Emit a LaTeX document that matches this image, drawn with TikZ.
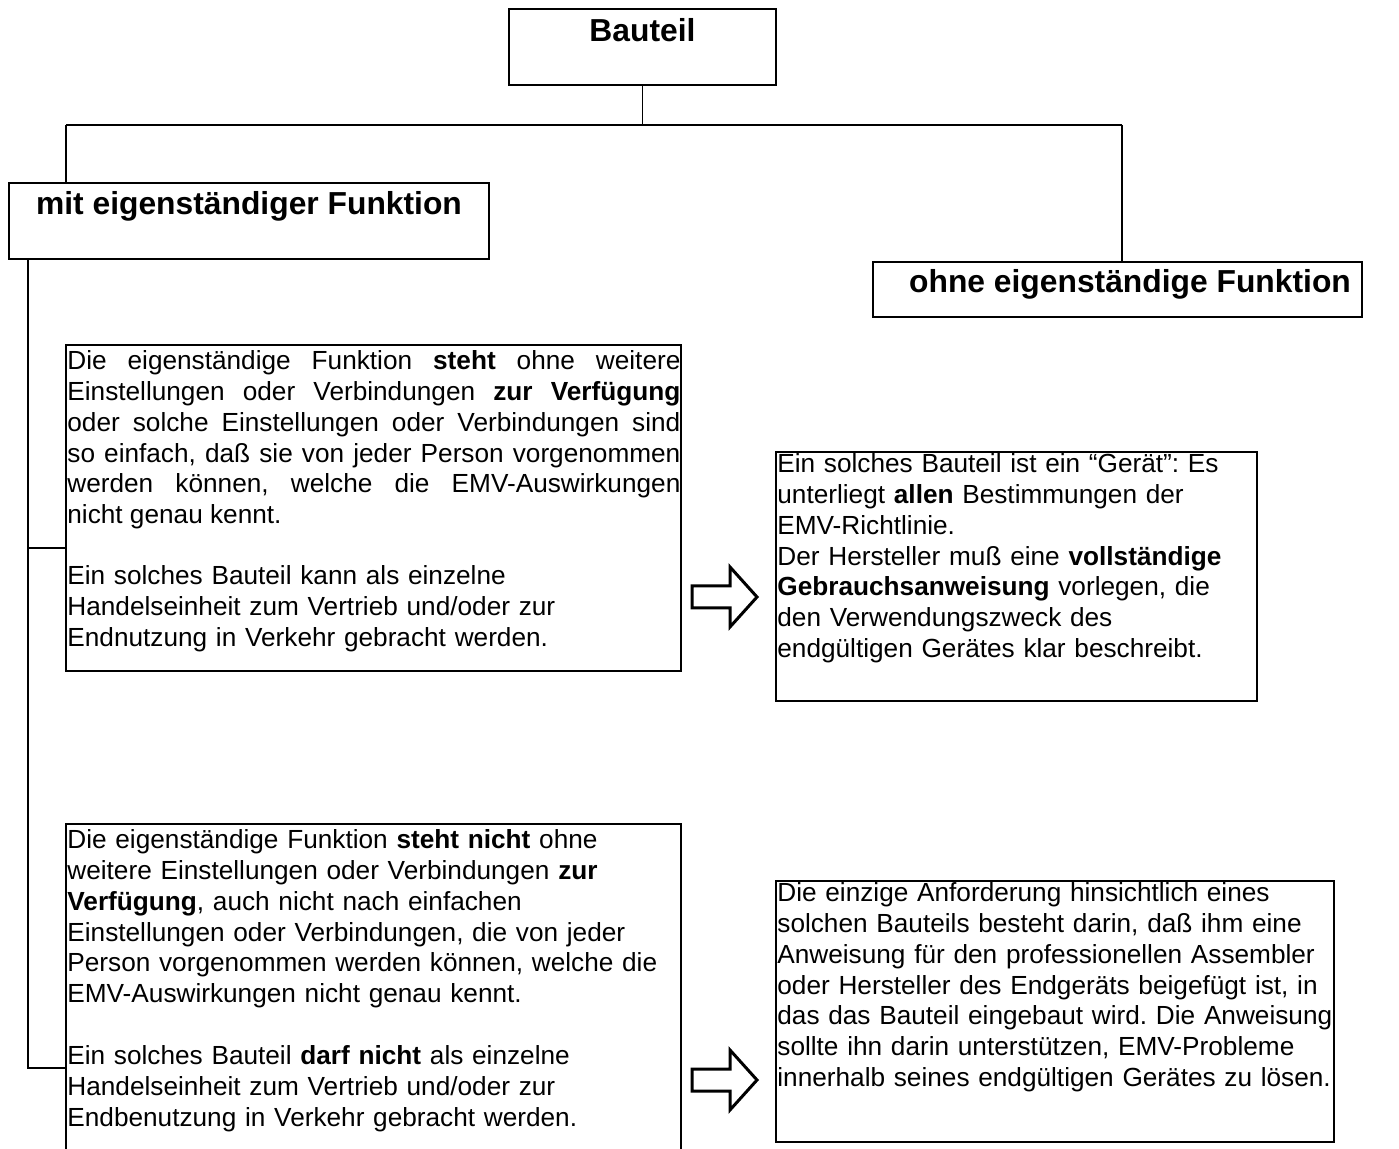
\documentclass[tikz,border=0pt]{standalone}
\usepackage{fontspec}
\setmainfont{Liberation Sans}
\usetikzlibrary{fit}
\frenchspacing
\begin{document}
\begin{tikzpicture}[x=0.5pt,y=-0.5pt,
  box/.style={draw, line width=0.8pt, inner sep=0pt},
  headtext/.style={font=\fontsize{15.9}{19}\selectfont\bfseries, inner sep=0pt, anchor=base},
  textbody/.style={font=\fontsize{13.1}{15.35}\selectfont\frenchspacing, inner sep=0pt, anchor=base west, text width=#1},
  textbody/.default=320pt,
  link/.style={line width=0.8pt},
  fatarrow/.style={draw, line width=1.5pt, line join=miter}]
\useasboundingbox (0,0) rectangle (1399,1149);

% boxes
\node[box, fit={(509,9) (776,85)}] (bauteil) {};
\node[headtext] (tbauteil) at (642.5,41.5) {Bauteil};
\node[box, fit={(9,183) (489,259)}] (mit) {};
\node[headtext] (tmit) at (249,215) {mit eigenständiger Funktion};
\node[box, fit={(873,262) (1362,317)}] (ohne) {};
\node[headtext] (tohne) at (1130,293) {ohne eigenständige Funktion};

\node[box, fit={(66,345) (681,671)}] (b1) {};
\node[box, fit={(776,452) (1257,701)}] (b2) {};
\node[box, fit={(66,824) (681,1170)}] (b3) {};
\node[box, fit={(776,881) (1334,1142)}] (b4) {};

% texts
\node[textbody=306.5pt, align=justify] (t1a) at (67,370) {Die eigenständige Funktion \textbf{steht} ohne weitere\linebreak Einstellungen oder Verbindungen \textbf{zur Verfügung}\linebreak oder solche Einstellungen oder Verbindungen sind\linebreak so einfach, daß sie von jeder Person vorgenommen\linebreak werden können, welche die EMV-Auswirkungen\linebreak nicht genau kennt.};
\node[textbody, align=left] (t1b) at (67,585) {Ein solches Bauteil kann als einzelne\\ Handelseinheit zum Vertrieb und/oder zur\\ Endnutzung in Verkehr gebracht werden.};

\node[textbody, align=left] (t2) at (777,473) {Ein solches Bauteil ist ein “Gerät": Es\\ unterliegt \textbf{allen} Bestimmungen der\\ EMV-Richtlinie.\\ Der Hersteller muß eine \textbf{vollständige}\\ \textbf{Gebrauchsanweisung} vorlegen, die\\ den Verwendungszweck des\\ endgültigen Gerätes klar beschreibt.};

\node[textbody, align=left] (t3a) at (67,849) {Die eigenständige Funktion \textbf{steht nicht} ohne\\ weitere Einstellungen oder Verbindungen \textbf{zur}\\ \textbf{Verfügung}, auch nicht nach einfachen\\ Einstellungen oder Verbindungen, die von jeder\\ Person vorgenommen werden können, welche die\\ EMV-Auswirkungen nicht genau kennt.};
\node[textbody, align=left] (t3b) at (67,1065) {Ein solches Bauteil \textbf{darf nicht} als einzelne\\ Handelseinheit zum Vertrieb und/oder zur\\ Endbenutzung in Verkehr gebracht werden.};

\node[textbody, align=left] (t4) at (777,902) {Die einzige Anforderung hinsichtlich eines\\ solchen Bauteils besteht darin, daß ihm eine\\ Anweisung für den professionellen Assembler\\ oder Hersteller des Endgeräts beigefügt ist, in\\ das das Bauteil eingebaut wird. Die Anweisung\\ sollte ihn darin unterstützen, EMV-Probleme\\ innerhalb seines endgültigen Gerätes zu lösen.};

% tree connectors
\coordinate (hl) at (66,125);
\coordinate (hr) at (1122,125);
\draw[link] (bauteil.south) -- (bauteil.south |- hl);
\draw[link] (hl) -- (hr);
\draw[link] (hl) -- (hl |- mit.north);
\draw[link] (hr) -- (hr |- ohne.north);

\coordinate (sp) at (28,259);
\coordinate (s1) at (28,548);
\coordinate (s3) at (28,1068);
\draw[link] (sp) -- (s3) -- (s3 -| b3.west);
\draw[link] (s1) -- (s1 -| b1.west);

% block arrows
\coordinate (a1) at (692,597);
\coordinate (a2) at (692,1080);
\draw[fatarrow] (a1) ++(0,-11) -- ++(38,0) -- ++(0,-19) -- ++(27,30) -- ++(-27,30) -- ++(0,-19) -- ++(-38,0) -- cycle;
\draw[fatarrow] (a2) ++(0,-11) -- ++(38,0) -- ++(0,-19) -- ++(27,30) -- ++(-27,30) -- ++(0,-19) -- ++(-38,0) -- cycle;
\end{tikzpicture}
\end{document}
